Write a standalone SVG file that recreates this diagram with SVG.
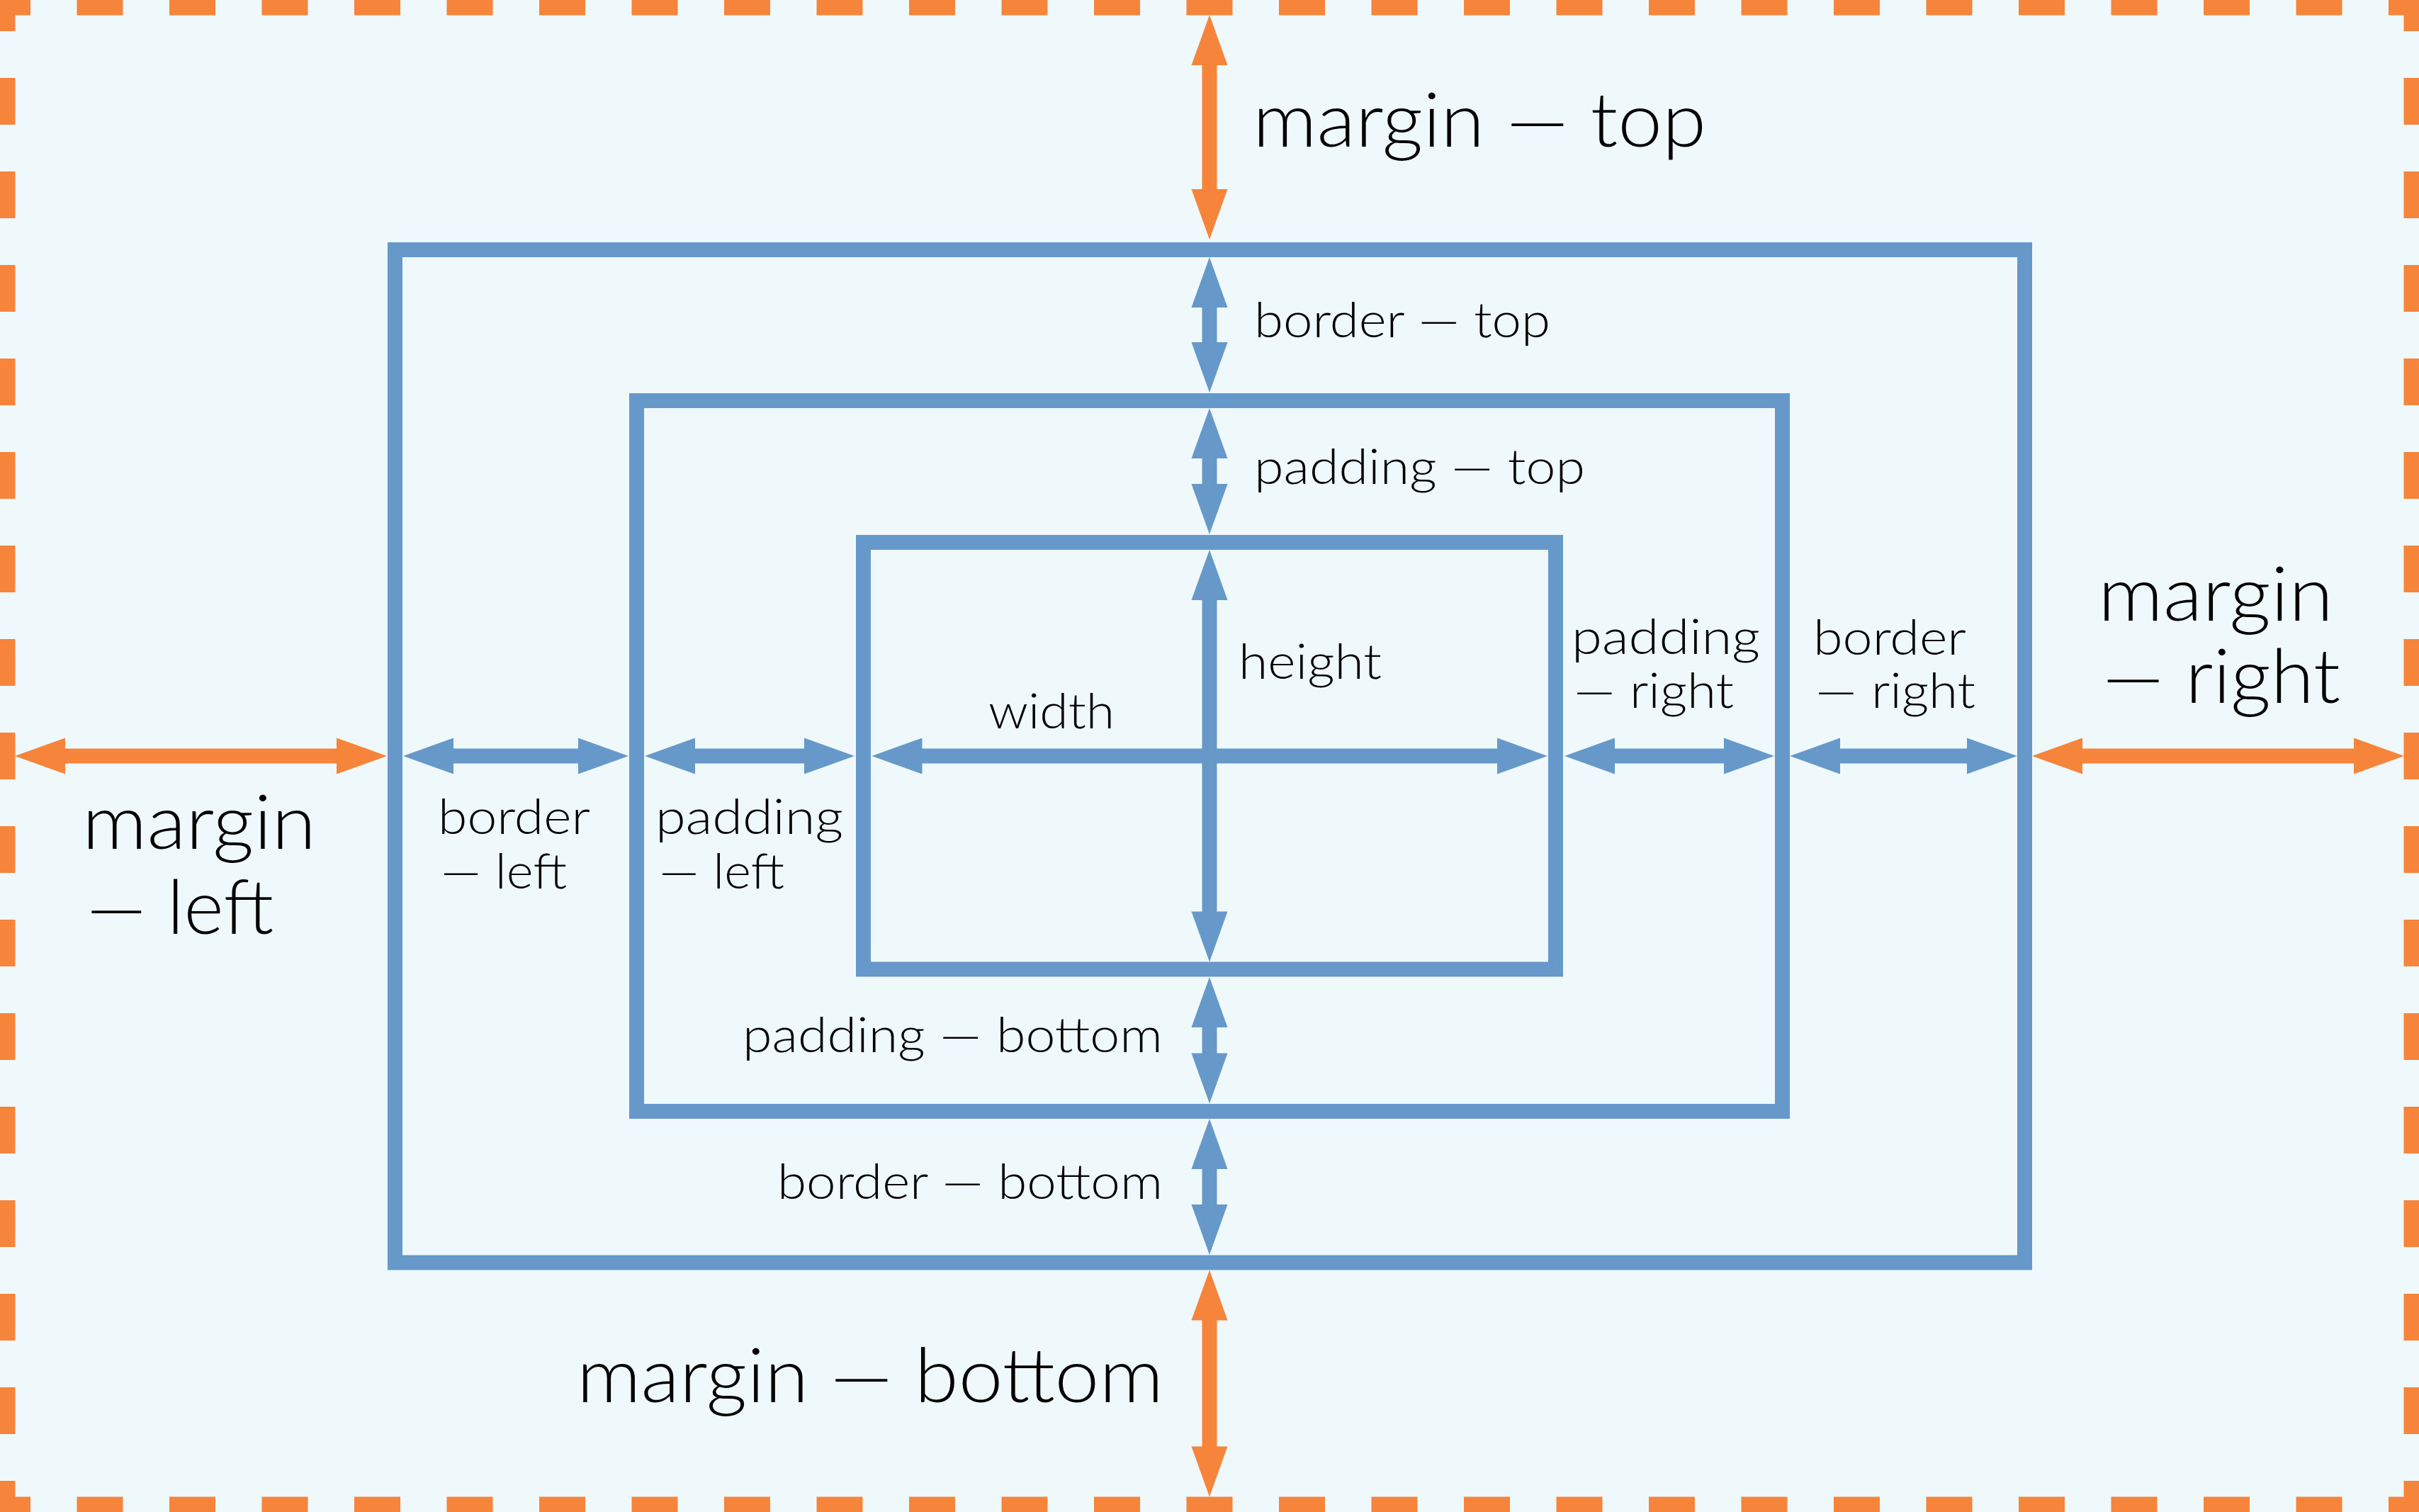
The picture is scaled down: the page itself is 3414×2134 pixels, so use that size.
<svg xmlns="http://www.w3.org/2000/svg" width="3414" height="2134" viewBox="0 0 3414 2134">
<style>
.bg{fill:#EFF8FB}
.dash{stroke:#F6843A;stroke-width:21.5;fill:none}
.box{fill:none;stroke:#6699C9;stroke-width:21}
.ab{stroke:#6699C9;stroke-width:21;fill:none}
.ao{stroke:#F6843A;stroke-width:21;fill:none}
.big{font-family:Lato,"Open Sans","Liberation Sans",sans-serif;font-weight:300;font-size:106px;fill:#000}
.sm{font-family:Lato,"Open Sans","Liberation Sans",sans-serif;font-weight:300;font-size:68px;fill:#000}
</style>
<defs>
<marker id="hb" markerUnits="userSpaceOnUse" markerWidth="72" markerHeight="52" refX="0" refY="25.5" orient="auto-start-reverse" overflow="visible"><path d="M-1,0 L70,25.5 L-1,51 Z" fill="#6699C9"/></marker>
<marker id="ho" markerUnits="userSpaceOnUse" markerWidth="72" markerHeight="52" refX="0" refY="25.5" orient="auto-start-reverse" overflow="visible"><path d="M-1,0 L70,25.5 L-1,51 Z" fill="#F6843A"/></marker>
</defs>
<rect class="bg" x="0" y="0" width="3414" height="2134"/>
<g id="margin-edge">
<line class="dash" x1="-22" y1="10.75" x2="3440" y2="10.75" stroke-dasharray="65 65.5"/>
<line class="dash" x1="-22" y1="2123.25" x2="3440" y2="2123.25" stroke-dasharray="65 65.5"/>
<line class="dash" x1="10.75" y1="-22" x2="10.75" y2="2160" stroke-dasharray="66 66"/>
<line class="dash" x1="3403.25" y1="-22" x2="3403.25" y2="2160" stroke-dasharray="66 66"/>
</g>
<g id="border-box"><rect class="box" x="557.5" y="352.5" width="2300" height="1429.5"/></g>
<g id="padding-box"><rect class="box" x="898.5" y="565.5" width="1617" height="1003"/></g>
<g id="content-box"><rect class="box" x="1218.5" y="765.5" width="977" height="602.5"/></g>
<g id="connectors">
<line class="ao" x1="91" y1="1067" x2="476" y2="1067" marker-start="url(#ho)" marker-end="url(#ho)"/>
<line class="ab" x1="639" y1="1067" x2="817" y2="1067" marker-start="url(#hb)" marker-end="url(#hb)"/>
<line class="ab" x1="980" y1="1067" x2="1136" y2="1067" marker-start="url(#hb)" marker-end="url(#hb)"/>
<line class="ab" x1="1300.5" y1="1067" x2="2114" y2="1067" marker-start="url(#hb)" marker-end="url(#hb)"/>
<line class="ab" x1="2278" y1="1067" x2="2434" y2="1067" marker-start="url(#hb)" marker-end="url(#hb)"/>
<line class="ab" x1="2596" y1="1067" x2="2777" y2="1067" marker-start="url(#hb)" marker-end="url(#hb)"/>
<line class="ao" x1="2938" y1="1067" x2="3323" y2="1067" marker-start="url(#ho)" marker-end="url(#ho)"/>
<line class="ao" x1="1707" y1="91" x2="1707" y2="268" marker-start="url(#ho)" marker-end="url(#ho)"/>
<line class="ab" x1="1707" y1="433" x2="1707" y2="484" marker-start="url(#hb)" marker-end="url(#hb)"/>
<line class="ab" x1="1707" y1="646" x2="1707" y2="684" marker-start="url(#hb)" marker-end="url(#hb)"/>
<line class="ab" x1="1707" y1="846" x2="1707" y2="1287.5" marker-start="url(#hb)" marker-end="url(#hb)"/>
<line class="ab" x1="1707" y1="1449" x2="1707" y2="1487.5" marker-start="url(#hb)" marker-end="url(#hb)"/>
<line class="ab" x1="1707" y1="1649" x2="1707" y2="1701" marker-start="url(#hb)" marker-end="url(#hb)"/>
<line class="ao" x1="1707" y1="1862.5" x2="1707" y2="2042.5" marker-start="url(#ho)" marker-end="url(#ho)"/>
</g>
<g id="labels">
<text class="big" x="1768" y="207" textLength="640" lengthAdjust="spacingAndGlyphs">margin — top</text>
<text class="sm" x="1770" y="476" textLength="418" lengthAdjust="spacingAndGlyphs">border — top</text>
<text class="sm" x="1770" y="683" textLength="467" lengthAdjust="spacingAndGlyphs">padding — top</text>
<text class="sm" x="1748" y="958" textLength="202" lengthAdjust="spacingAndGlyphs">height</text>
<text class="sm" x="1395" y="1028" textLength="178" lengthAdjust="spacingAndGlyphs">width</text>
<text class="sm" x="2218" y="923" textLength="266" lengthAdjust="spacingAndGlyphs">padding</text>
<text class="sm" x="2221" y="999" textLength="226" lengthAdjust="spacingAndGlyphs">— right</text>
<text class="sm" x="2559" y="924" textLength="216" lengthAdjust="spacingAndGlyphs">border</text>
<text class="sm" x="2562" y="999" textLength="226" lengthAdjust="spacingAndGlyphs">— right</text>
<text class="big" x="2961" y="876" textLength="332" lengthAdjust="spacingAndGlyphs">margin</text>
<text class="big" x="2967" y="992" textLength="336" lengthAdjust="spacingAndGlyphs">— right</text>
<text class="big" x="116" y="1198" textLength="330" lengthAdjust="spacingAndGlyphs">margin</text>
<text class="big" x="122" y="1318" textLength="264" lengthAdjust="spacingAndGlyphs">— left</text>
<text class="sm" x="618" y="1177" textLength="215" lengthAdjust="spacingAndGlyphs">border</text>
<text class="sm" x="622" y="1254" textLength="178" lengthAdjust="spacingAndGlyphs">— left</text>
<text class="sm" x="925" y="1177" textLength="265" lengthAdjust="spacingAndGlyphs">padding</text>
<text class="sm" x="930" y="1254" textLength="177" lengthAdjust="spacingAndGlyphs">— left</text>
<text class="sm" x="1048" y="1485" textLength="593" lengthAdjust="spacingAndGlyphs">padding — bottom</text>
<text class="sm" x="1097" y="1692" textLength="544" lengthAdjust="spacingAndGlyphs">border — bottom</text>
<text class="big" x="814" y="1979" textLength="828" lengthAdjust="spacingAndGlyphs">margin — bottom</text>
</g>
</svg>
